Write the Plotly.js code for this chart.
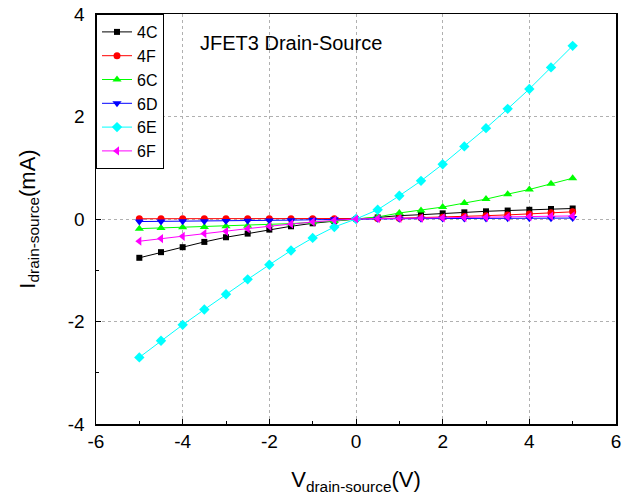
<!DOCTYPE html>
<html>
<head>
<meta charset="utf-8">
<script src="https://cdn.plot.ly/plotly-3.0.1.min.js"></script>
<style>html,body{margin:0;padding:0;background:#fff;}</style>
</head>
<body>
<div id="chart" style="width:635px;height:499px;"></div>
<script>
const vds = [-5,-4.5,-4,-3.5,-3,-2.5,-2,-1.5,-1,-0.5,0,0.5,1,1.5,2,2.5,3,3.5,4,4.5,5];
const seriesNames = ["4C","4F","6C","6D","6E","6F"];
const i4C = [-0.757,-0.647,-0.55,-0.447,-0.356,-0.285,-0.207,-0.142,-0.084,-0.04,0,0.03,0.065,0.084,0.11,0.13,0.15,0.165,0.18,0.195,0.205];
const i4F = [0.005,0.005,0.005,0.005,0.005,0.005,0.005,0.005,0.005,0.004,0,0.01,0.015,0.025,0.035,0.05,0.065,0.08,0.1,0.12,0.14];
const i6C = [-0.188,-0.175,-0.162,-0.155,-0.142,-0.13,-0.11,-0.09,-0.065,-0.04,0,0.04,0.117,0.168,0.233,0.311,0.388,0.485,0.576,0.686,0.796];
const i6D = [-0.05,-0.048,-0.045,-0.042,-0.04,-0.035,-0.03,-0.022,-0.015,-0.007,0,0.003,0.005,0.007,0.008,0.01,0.012,0.013,0.015,0.016,0.018];
const i6E = [-2.70,-2.375,-2.065,-1.767,-1.469,-1.178,-0.893,-0.615,-0.369,-0.155,0,0.181,0.453,0.744,1.068,1.417,1.773,2.149,2.537,2.958,3.379];
const i6F = [-0.434,-0.382,-0.337,-0.285,-0.24,-0.188,-0.142,-0.097,-0.058,-0.026,0,0.008,0.012,0.017,0.022,0.028,0.034,0.04,0.047,0.054,0.06];

const xTickVals = [-6,-4,-2,0,2,4,6];
const xTickText = ["-6","-4","-2","0","2","4","6"];
const yTickVals = [-4,-2,0,2,4];
const yTickText = ["-4","-2","0","2","4"];

const values = [i4C,i4F,i6C,i6D,i6E,i6F];
const colors = ["#000000","#ff0000","#00ff00","#0000ff","#00ffff","#ff00ff"];
const symbols = ["square","circle","triangle-up","triangle-down","diamond","triangle-left"];
const sizes = [6,7,8,8,8,8];

const FONT = "Arial, 'Liberation Sans', sans-serif";
const traces = seriesNames.map((n,k)=>({
  x: vds, y: values[k], name: n, type: "scatter", mode: "lines+markers",
  line: {color: colors[k], width: 1},
  marker: {color: colors[k], symbol: symbols[k], size: sizes[k]}
}));

const axisCommon = {
  showline: true, linecolor: "#000", linewidth: 1.5, mirror: true,
  ticks: "inside", ticklen: 5, tickcolor: "#000",
  showgrid: true, gridcolor: "#b0b0b0", griddash: "dot", gridwidth: 1,
  zeroline: false,
  tickfont: {family: FONT, size: 19, color: "#000"},
  tickmode: "array"
};

const layout = {
  width: 635, height: 499,
  margin: {l: 96, r: 19, t: 14, b: 75},
  paper_bgcolor: "#fff", plot_bgcolor: "#fff",
  showlegend: true,
  font: {family: FONT, color: "#000"},
  title: {text: "JFET3 Drain-Source", x: 200/635, xanchor: "left", y: 1 - 43/499, yanchor: "middle",
          font: {family: FONT, size: 20, color: "#000"}},
  xaxis: Object.assign({}, axisCommon, {
    range: [-6, 6], tickvals: xTickVals, ticktext: xTickText,
    minor: {ticks: "inside", ticklen: 3, tickcolor: "#000", tickmode: "linear", tick0: 0, dtick: 1, showgrid: false},
    title: {text: "V<sub>drain-source</sub>(V)", font: {family: FONT, size: 22, color: "#000"}, standoff: 20}
  }),
  yaxis: Object.assign({}, axisCommon, {
    range: [-4, 4], tickvals: yTickVals, ticktext: yTickText,
    ticklabelstandoff: 6,
    minor: {ticks: "inside", ticklen: 3, tickcolor: "#000", tickmode: "linear", tick0: 0, dtick: 1, showgrid: false},
    title: {text: "I<sub>drain-source</sub>(mA)", font: {family: FONT, size: 22, color: "#000"}, standoff: 26}
  }),
  legend: {
    x: 0, y: 1, xanchor: "left", yanchor: "top",
    bgcolor: "#fff", bordercolor: "#000", borderwidth: 1,
    font: {family: FONT, size: 16, color: "#000"},
    itemwidth: 30, tracegroupgap: 0
  }
};

Plotly.newPlot("chart", traces, layout, {displayModeBar: false, staticPlot: true});
</script>
</body>
</html>
